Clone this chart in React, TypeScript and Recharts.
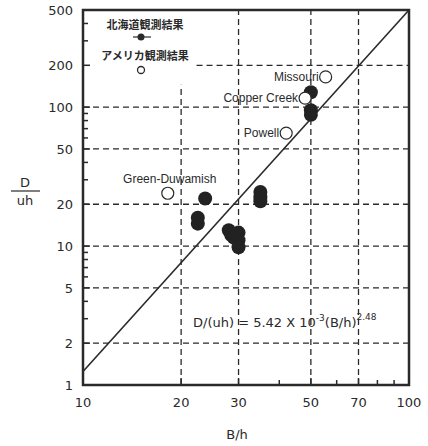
import React from 'react';
import {
  ScatterChart,
  Scatter,
  XAxis,
  YAxis,
  ReferenceLine,
  ReferenceArea,
} from 'recharts';

// Hokkaido observations (filled)
const hokkaidoX = [50, 50, 50, 35, 35, 35, 23.7, 22.5, 22.5, 28, 28.5, 29, 30, 30, 30];
const hokkaidoY = [128, 95, 88, 24.5, 22.5, 21, 22, 16, 14.5, 13, 12, 11.5, 12.5, 11, 9.8];

// American observations (open)
const usNames = ['Missouri', 'Copper Creek', 'Powell', 'Green-Duwamish'];
const usX = [55.5, 48, 42, 18.2];
const usY = [165, 116, 65, 24];

// regression line end points
const fitX = [10, 100];
const fitY = [1.25, 500];

const xTicksMajor = [10, 20, 30, 50, 70, 100];
const xTicksMinor = [40, 60, 80, 90];
const yTicksMajor = [1, 2, 5, 10, 20, 50, 100, 200, 500];
const yTicksMinor = [3, 4, 6, 7, 8, 9, 30, 40, 60, 70, 80, 90, 300, 400];

const gridX = [30, 50, 70];
const gridY = [2, 5, 10, 20, 50, 100];

const hokkaidoData = hokkaidoX.map((x, i) => ({ x, y: hokkaidoY[i] }));
const usData = usX.map((x, i) => ({ x, y: usY[i], name: usNames[i] }));

const tickFont = 'DejaVu Sans, sans-serif';
const labelFont = '"Liberation Sans Narrow", "Liberation Sans", sans-serif';
const ink = '#2a2a2a';

const XTick = (props: any) => {
  const { x, y, payload } = props;
  const major = xTicksMajor.includes(payload.value);
  return (
    <g>
      <line x1={x} x2={x} y1={y} y2={y - (major ? 7 : 5)} stroke={ink} strokeWidth={1.5} />
      {major && (
        <text x={x} y={y + 22} textAnchor="middle" fontSize={13} fontFamily={tickFont} fill={ink}>
          {payload.value}
        </text>
      )}
    </g>
  );
};

const YTick = (props: any) => {
  const { x, y, payload } = props;
  const major = yTicksMajor.includes(payload.value);
  return (
    <g>
      <line x1={x} x2={x + (major ? 7 : 5)} y1={y} y2={y} stroke={ink} strokeWidth={1.5} />
      {major && (
        <text x={x - 10} y={y + 5} textAnchor="end" fontSize={13} fontFamily={tickFont} fill={ink}>
          {payload.value}
        </text>
      )}
    </g>
  );
};

const FilledDot = (props: any) => {
  const { cx, cy } = props;
  return <circle cx={cx} cy={cy} r={7} fill="#222" />;
};

const OpenDot = (props: any) => {
  const { cx, cy, payload } = props;
  const above = payload.name === 'Green-Duwamish';
  return (
    <g>
      <circle cx={cx} cy={cy} r={6} fill="#fff" stroke={ink} strokeWidth={1.2} />
      <text
        x={above ? cx + 2 : cx - 7}
        y={above ? cy - 10 : cy + 4}
        textAnchor={above ? 'middle' : 'end'}
        fontSize={12}
        fontFamily={labelFont}
        fill={ink}
      >
        {payload.name}
      </text>
    </g>
  );
};

export default function App() {
  return (
    <div style={{ position: 'absolute', left: 0, top: 0, width: 428, height: 446, background: '#fff' }}>
      <ScatterChart width={428} height={446} margin={{ top: 10, right: 19, bottom: 0, left: 20 }}>
        <XAxis
          type="number"
          dataKey="x"
          scale="log"
          domain={[10, 100]}
          allowDataOverflow
          ticks={[...xTicksMajor, ...xTicksMinor]}
          interval={0}
          tickSize={0}
          tickMargin={0}
          tick={<XTick />}
          axisLine={false}
          height={61}
        />
        <YAxis
          type="number"
          dataKey="y"
          scale="log"
          domain={[1, 500]}
          allowDataOverflow
          ticks={[...yTicksMajor, ...yTicksMinor]}
          interval={0}
          tickSize={0}
          tickMargin={0}
          tick={<YTick />}
          axisLine={false}
          width={63}
        />
        {gridX.map((v) => (
          <ReferenceLine key={'gx' + v} x={v} stroke={ink} strokeWidth={1.3} strokeDasharray="6 4" />
        ))}
        <ReferenceLine
          segment={[{ x: 20, y: 1 }, { x: 20, y: 145 }]}
          stroke={ink}
          strokeWidth={1.3}
          strokeDasharray="6 4"
        />
        {gridY.map((v) => (
          <ReferenceLine key={'gy' + v} y={v} stroke={ink} strokeWidth={1.3} strokeDasharray="6 4" />
        ))}
        <ReferenceLine
          segment={[{ x: 22.3, y: 200 }, { x: 100, y: 200 }]}
          stroke={ink}
          strokeWidth={1.3}
          strokeDasharray="6 4"
        />
        <ReferenceLine
          segment={[{ x: fitX[0], y: fitY[0] }, { x: fitX[1], y: fitY[1] }]}
          stroke={ink}
          strokeWidth={1.6}
        />
        <ReferenceArea x1={10} x2={100} y1={1} y2={500} fill="none" stroke={ink} strokeWidth={2.5} />
        <Scatter data={hokkaidoData} shape={<FilledDot />} isAnimationActive={false} />
        <Scatter data={usData} shape={<OpenDot />} isAnimationActive={false} />
      </ScatterChart>
      <svg
        width={428}
        height={446}
        style={{ position: 'absolute', left: 0, top: 0, pointerEvents: 'none' }}
      >
        <text x={145} y={29} textAnchor="middle" fontSize={11} fontWeight="bold" fontFamily='"Noto Sans CJK JP", sans-serif' fill={ink}>
          北海道観測結果
        </text>
        <line x1={133} x2={151} y1={37} y2={37} stroke={ink} strokeWidth={1.2} />
        <circle cx={141} cy={37} r={3.5} fill={ink} />
        <text x={145} y={60} textAnchor="middle" fontSize={11} fontWeight="bold" fontFamily='"Noto Sans CJK JP", sans-serif' fill={ink}>
          アメリカ観測結果
        </text>
        <circle cx={141} cy={70} r={3.5} fill="#fff" stroke={ink} strokeWidth={1.3} />
        <text x={193} y={327} fontSize={13} fontFamily={tickFont} fill={ink}>
          D/(uh) =  5.42 X 10
          <tspan dy={-6} fontSize={9}>-3</tspan>
          <tspan dy={6}>(B/h)</tspan>
          <tspan dy={-7} fontSize={9}>2.48</tspan>
        </text>
        <text x={25} y={187} textAnchor="middle" fontSize={13} fontFamily={tickFont} fill={ink}>D</text>
        <line x1={11} x2={40} y1={191} y2={191} stroke={ink} strokeWidth={1.2} />
        <text x={25} y={205} textAnchor="middle" fontSize={13} fontFamily={tickFont} fill={ink}>uh</text>
        <text x={237} y={439} textAnchor="middle" fontSize={13} fontFamily={tickFont} fill={ink}>B/h</text>
      </svg>
    </div>
  );
}
